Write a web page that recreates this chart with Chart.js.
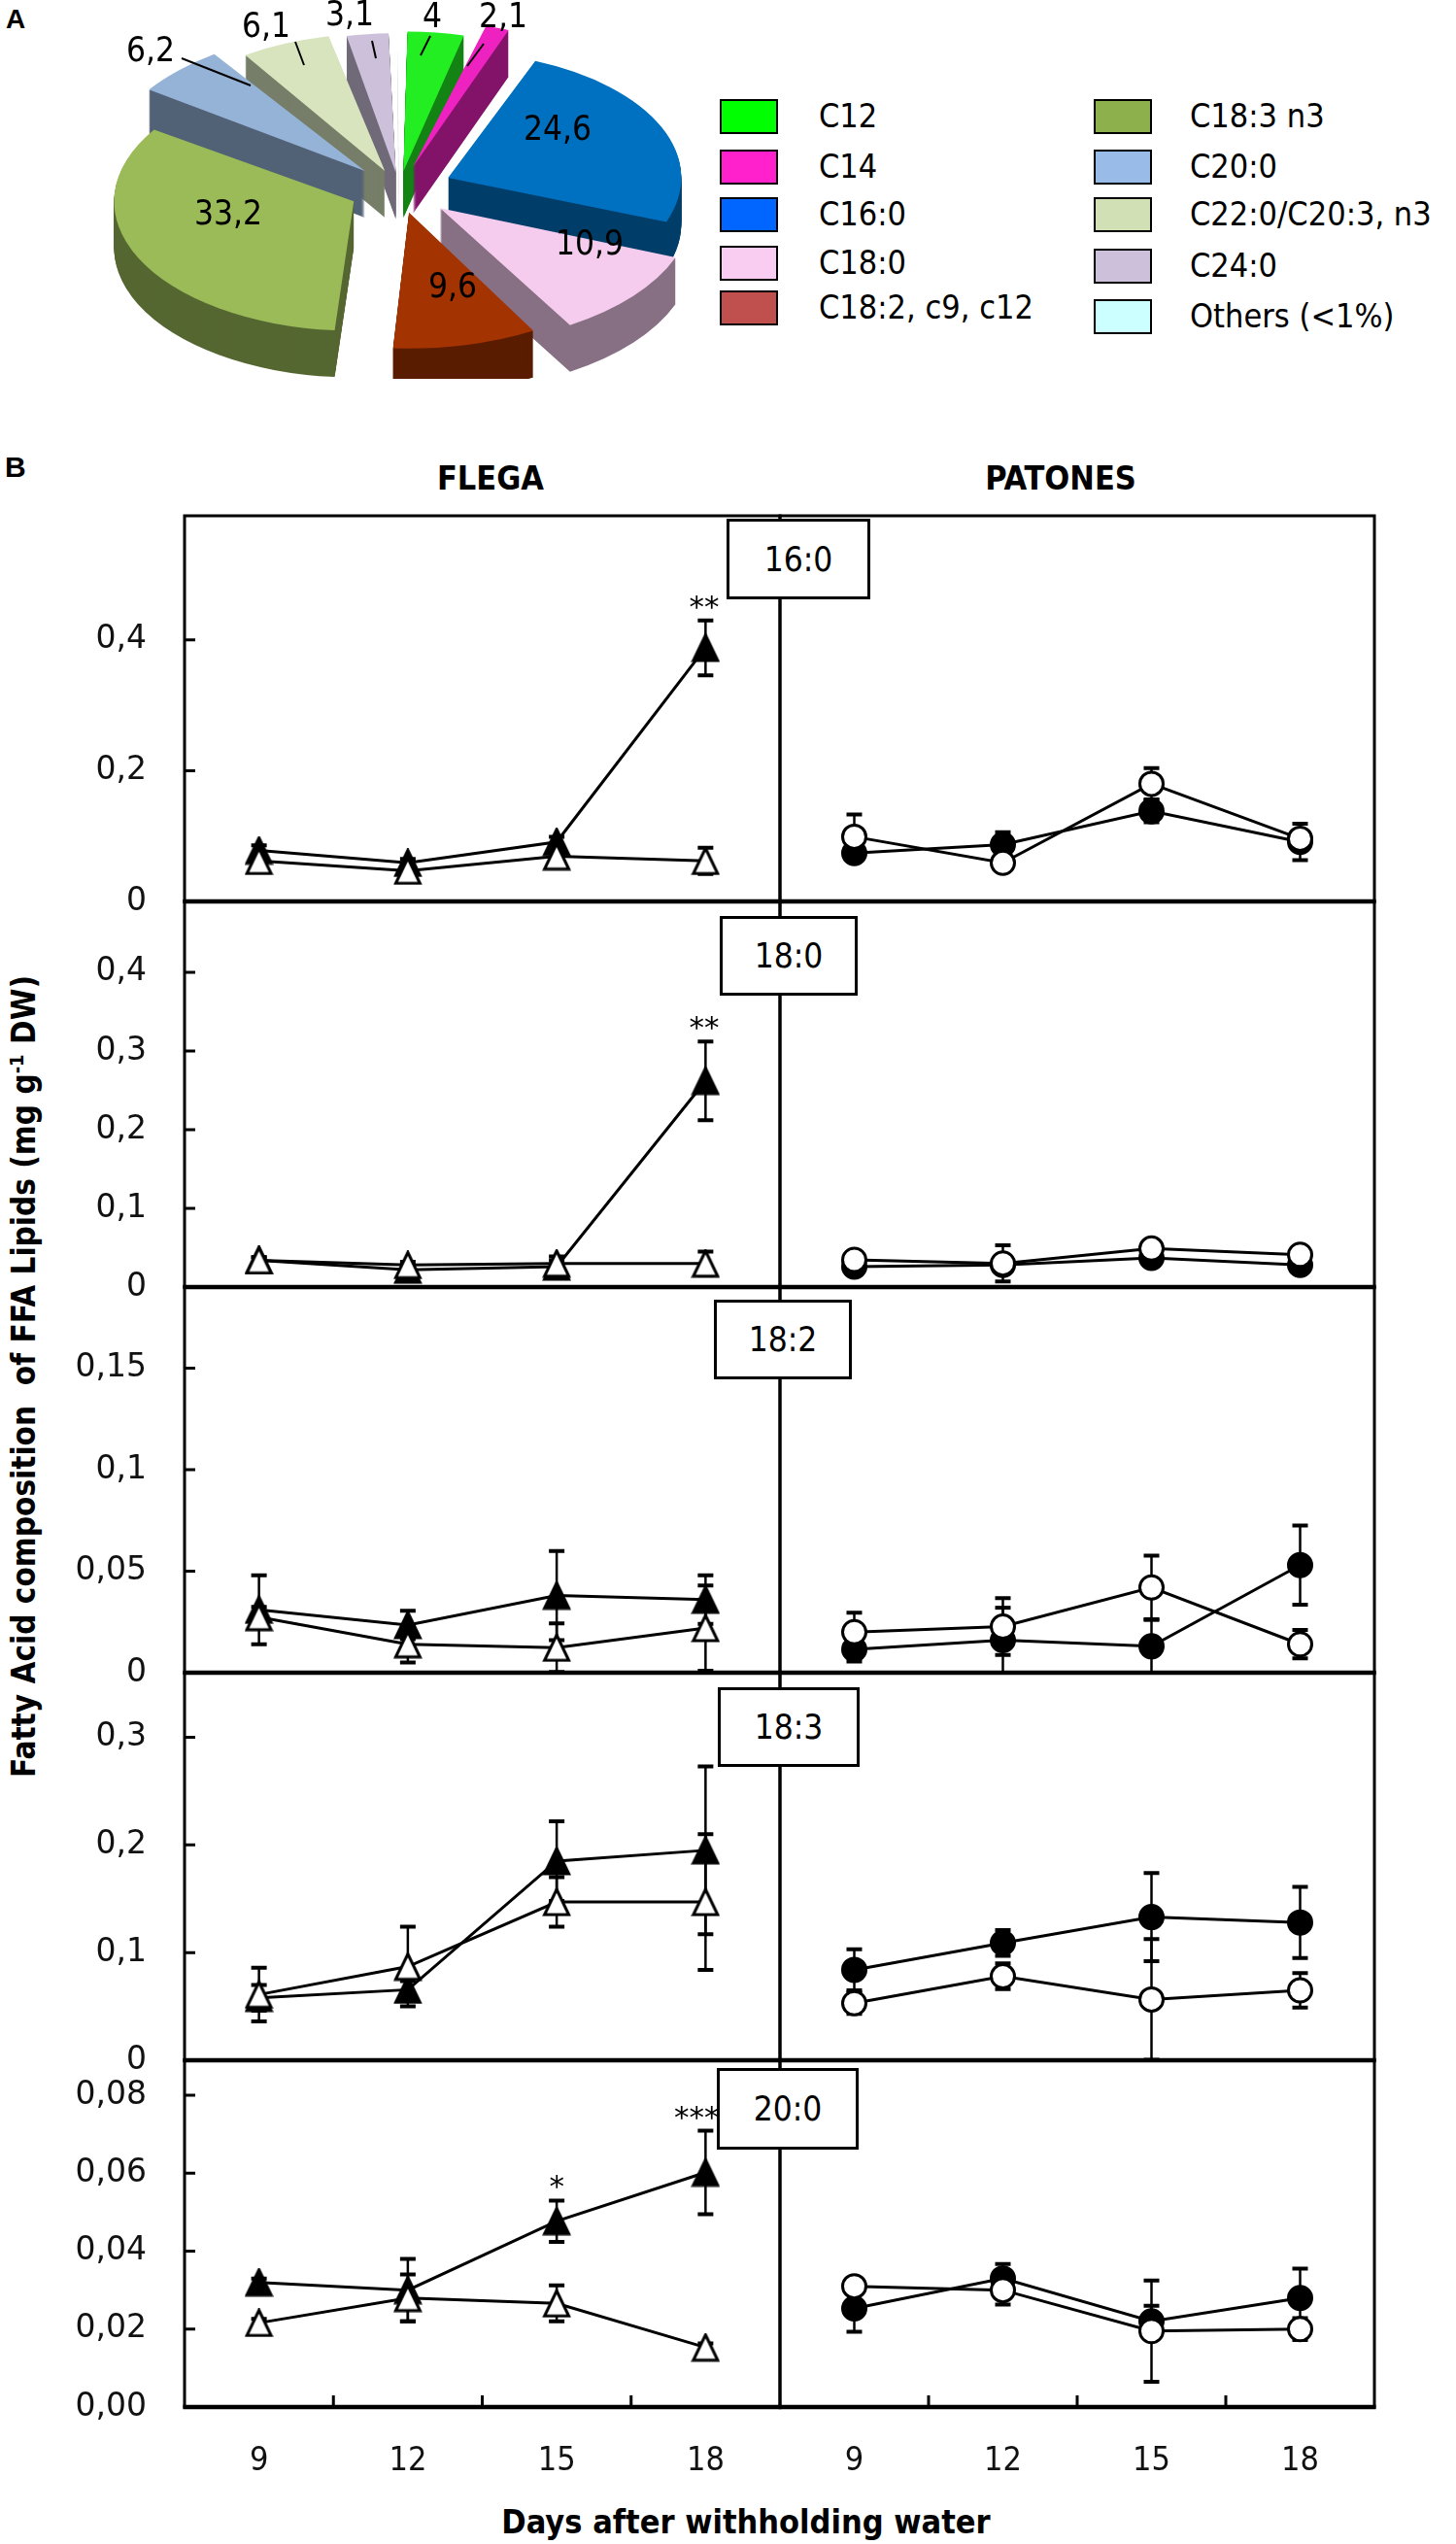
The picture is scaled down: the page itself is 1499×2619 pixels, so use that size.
<!DOCTYPE html>
<html>
<head>
<meta charset="utf-8">
<script src="https://cdn.jsdelivr.net/npm/chart.js@4.4.1/dist/chart.umd.min.js"></script>
<style>
  html, body { margin: 0; padding: 0; background: #fff; }
  body { width: 1499px; height: 2619px; position: relative; overflow: hidden; color: #000;
         font-family: 'DejaVu Sans Condensed', 'DejaVu Sans', sans-serif; }
  canvas { position: absolute; }
  .txt { position: absolute; white-space: pre; line-height: 1; }
  .bold { font-weight: bold; }
  .box { position: absolute; background: #fff; border: 3px solid #000; box-sizing: border-box;
         display: flex; align-items: center; justify-content: center; font-size: 35px; z-index: 5; }
  .sw { position: absolute; width: 60px; height: 36px; border: 2.5px solid #000; box-sizing: border-box; }
  .lg { position: absolute; font-size: 34px; line-height: 36px; white-space: nowrap; }
</style>
</head>
<body>
<div class="txt bold" style="left:6px;top:6px;font-family:'Liberation Sans';font-size:28px;">A</div>
<div class="txt bold" style="left:5px;top:466px;font-family:'Liberation Sans';font-size:30px;">B</div>
<div class="txt bold" style="left:505px;top:492px;font-size:34px;transform:translate(-50%,-50%);">FLEGA</div>
<div class="txt bold" style="left:1092px;top:492px;font-size:34px;transform:translate(-50%,-50%);">PATONES</div>
<div class="txt bold" style="left:24px;top:1417px;font-size:33px;transform:translate(-50%,-50%) rotate(-90deg);">Fatty Acid composition  of FFA Lipids (mg g<sup style="font-size:20px;">-1</sup> DW)</div>
<div class="txt bold" style="left:768px;top:2596px;font-size:34px;transform:translate(-50%,-50%);">Days after withholding water</div>

<script>
// ---- panel A: pie ----
var pieLabels = ['C12', 'C14', 'C16:0', 'C18:0', 'C18:2, c9, c12', 'C18:3 n3', 'C20:0', 'C22:0/C20:3, n3', 'C24:0', 'Others (<1%)'];
var pieValues = [4, 2.1, 24.6, 10.9, 9.6, 33.2, 6.2, 6.1, 3.1, 0.2];
var pieColors = ['#22ee22', '#ee22c0', '#0070c0', '#f6ccee', '#a33300', '#9bbb59', '#95b3d7', '#d7e4bd', '#ccc0da', '#ccffff'];
var legendColors = ['#00ff00', '#ff22cc', '#0066ff', '#f9ccf2', '#c0504d', '#8db04c', '#99bbe8', '#d2e0b5', '#ccc0da', '#ccffff'];
var pieExplode = [35, 45, 55, 55, 45, 52, 50, 38, 32, 30];

// ---- panel B: days and y ticks ----
var days = ['9', '12', '15', '18'];
var panelNames = ['16:0', '18:0', '18:2', '18:3', '20:0'];
var yMax = [0.59, 0.49, 0.19, 0.36, 0.089];
var yTicks16 = [0, 0.2, 0.4];
var yTicks18 = [0, 0.1, 0.2, 0.3, 0.4];
var yTicks182 = [0, 0.05, 0.1, 0.15];
var yTicks183 = [0, 0.1, 0.2, 0.3];
var yTicks20 = [0, 0.02, 0.04, 0.06, 0.08];
var yLabels16 = ['0', '0,2', '0,4'];
var yLabels18 = ['0', '0,1', '0,2', '0,3', '0,4'];
var yLabels182 = ['0', '0,05', '0,1', '0,15'];
var yLabels183 = ['0', '0,1', '0,2', '0,3'];
var yLabels20 = ['0,00', '0,02', '0,04', '0,06', '0,08'];

// FLEGA, solid triangles / open triangles (mean and error)
var flegaSolid16 = [0.078, 0.059, 0.091, 0.388];
var flegaSolidErr16 = [0.008, 0.006, 0.008, 0.042];
var flegaOpen16 = [0.062, 0.047, 0.069, 0.062];
var flegaOpenErr16 = [0.006, 0.005, 0.006, 0.02];
var flegaSolid18 = [0.034, 0.022, 0.026, 0.262];
var flegaSolidErr18 = [0.004, 0.005, 0.013, 0.05];
var flegaOpen18 = [0.034, 0.028, 0.03, 0.03];
var flegaOpenErr18 = [0.004, 0.004, 0.004, 0.015];
var flegaSolid182 = [0.031, 0.0235, 0.038, 0.036];
var flegaSolidErr182 = [0.017, 0.007, 0.022, 0.012];
var flegaOpen182 = [0.0274, 0.014, 0.0123, 0.022];
var flegaOpenErr182 = [0.005, 0.009, 0.012, 0.021];
var flegaSolid183 = [0.058, 0.0655, 0.185, 0.195];
var flegaSolidErr183 = [0.012, 0.008, 0.037, 0.078];
var flegaOpen183 = [0.061, 0.087, 0.147, 0.147];
var flegaOpenErr183 = [0.025, 0.037, 0.023, 0.063];
var flegaSolid20 = [0.032, 0.03, 0.0477, 0.0602];
var flegaSolidErr20 = [0.001, 0.008, 0.0053, 0.0107];
var flegaOpen20 = [0.0216, 0.028, 0.0266, 0.0153];
var flegaOpenErr20 = [0.001, 0.006, 0.0046, 0.001];
var flegaSig16 = ['', '', '', '**'];
var flegaSig18 = ['', '', '', '**'];
var flegaSig20 = ['', '', '*', '***'];

// PATONES, solid circles / open circles
var patonesSolid16 = [0.074, 0.087, 0.138, 0.091];
var patonesSolidErr16 = [0.01, 0.019, 0.017, 0.028];
var patonesOpen16 = [0.099, 0.059, 0.18, 0.096];
var patonesOpenErr16 = [0.034, 0.006, 0.024, 0.01];
var patonesSolid18 = [0.026, 0.028, 0.037, 0.028];
var patonesSolidErr18 = [0.004, 0.01, 0.004, 0.004];
var patonesOpen18 = [0.0345, 0.03, 0.049, 0.041];
var patonesOpenErr18 = [0.004, 0.023, 0.005, 0.004];
var patonesSolid182 = [0.0115, 0.016, 0.013, 0.053];
var patonesSolidErr182 = [0.006, 0.016, 0.013, 0.0195];
var patonesOpen182 = [0.02, 0.0227, 0.042, 0.014];
var patonesOpenErr182 = [0.0096, 0.014, 0.0157, 0.007];
var patonesSolid183 = [0.084, 0.109, 0.133, 0.128];
var patonesSolidErr183 = [0.019, 0.012, 0.041, 0.033];
var patonesOpen183 = [0.053, 0.078, 0.0565, 0.065];
var patonesOpenErr183 = [0.01, 0.012, 0.056, 0.016];
var patonesSolid20 = [0.0253, 0.033, 0.022, 0.028];
var patonesSolidErr20 = [0.006, 0.0037, 0.004, 0.0075];
var patonesOpen20 = [0.031, 0.03, 0.0195, 0.02];
var patonesOpenErr20 = [0.001, 0.0037, 0.013, 0.0028];

var condensed = 'DejaVu Sans Condensed';

// ---------- pie ----------
var pieLeft = 91, pieTop = 0, tilt = 0.54, depth = 48;
var pieLabelAt = [[445, 19], [518, 19], [574, 135], [607, 253], [466, 297], [235, 222], [155, 54], [274, 29], [360, 17], null];
var pieLeaders = [[443, 37, 433, 57], [498, 45, 481, 68], [187, 60, 258, 88], [304, 43, 313, 67], [383, 42, 387, 60]];

function makeCanvas(left, top, w, h) {
  var c = document.createElement('canvas');
  c.width = w;
  c.height = h;
  c.style.left = left + 'px';
  c.style.top = top + 'px';
  c.style.width = w + 'px';
  c.style.height = h + 'px';
  document.body.appendChild(c);
  return c;
}

var pie3d = {
  id: 'pie3d',
  beforeDatasetsDraw: function(chart) {
    var ctx = chart.ctx;
    var arcs = chart.getDatasetMeta(0).data;
    var cy = arcs[0].y;
    ctx.save();
    ctx.translate(0, cy);
    ctx.scale(1, tilt);
    ctx.translate(0, -cy);
    // side walls: the same arcs stacked downwards, darkened afterwards
    for (var d = depth; d > 0; d--) {
      ctx.save();
      ctx.translate(0, d / tilt);
      arcs.forEach(function(a) { a.draw(ctx); });
      ctx.restore();
    }
    ctx.save();
    ctx.setTransform(1, 0, 0, 1, 0, 0);
    ctx.globalCompositeOperation = 'source-atop';
    ctx.fillStyle = 'rgba(0,0,0,0.45)';
    ctx.fillRect(0, 0, chart.canvas.width, chart.canvas.height);
    ctx.restore();
  },
  afterDatasetsDraw: function(chart) {
    chart.ctx.restore();
  },
  afterDraw: function(chart) {
    var ctx = chart.ctx;
    ctx.save();
    ctx.fillStyle = '#000';
    ctx.font = '35px "' + condensed + '"';
    ctx.textAlign = 'center';
    ctx.textBaseline = 'middle';
    pieValues.forEach(function(v, i) {
      var p = pieLabelAt[i];
      if (!p) return;
      ctx.fillText(String(v).replace('.', ','), p[0] - pieLeft, p[1] - pieTop);
    });
    ctx.strokeStyle = '#000';
    ctx.lineWidth = 2;
    pieLeaders.forEach(function(l) {
      ctx.beginPath();
      ctx.moveTo(l[0] - pieLeft, l[1] - pieTop);
      ctx.lineTo(l[2] - pieLeft, l[3] - pieTop);
      ctx.stroke();
    });
    ctx.restore();
  }
};

new Chart(makeCanvas(pieLeft, pieTop, 640, 390), {
  type: 'pie',
  data: {
    labels: pieLabels,
    datasets: [{
      data: pieValues,
      backgroundColor: pieColors,
      borderWidth: 0,
      offset: pieExplode.map(function(o) { return o * 4; }),
      clip: false
    }]
  },
  options: {
    responsive: false,
    animation: false,
    events: [],
    radius: 240,
    plugins: { legend: { display: false }, tooltip: { enabled: false } }
  },
  plugins: [pie3d]
});

// legend
var legendPos = [[741, 102], [741, 154], [741, 203], [741, 253], [741, 299],
                 [1126, 102], [1126, 154], [1126, 203], [1126, 256], [1126, 308]];
pieLabels.forEach(function(name, i) {
  var sw = document.createElement('div');
  sw.className = 'sw';
  sw.style.left = legendPos[i][0] + 'px';
  sw.style.top = legendPos[i][1] + 'px';
  sw.style.background = legendColors[i];
  document.body.appendChild(sw);
  var t = document.createElement('div');
  t.className = 'lg';
  t.textContent = name;
  t.style.left = (legendPos[i][0] + (i < 5 ? 102 : 99)) + 'px';
  t.style.top = (legendPos[i][1] - 1) + 'px';
  document.body.appendChild(t);
});

// ---------- line panels ----------
function triangle(filled) {
  var c = document.createElement('canvas');
  c.width = 30;
  c.height = 30;
  var g = c.getContext('2d');
  g.beginPath();
  g.moveTo(15, 2);
  g.lineTo(27.5, 28);
  g.lineTo(2.5, 28);
  g.closePath();
  g.fillStyle = filled ? '#000' : '#fff';
  g.fill();
  g.lineWidth = 3;
  g.strokeStyle = '#000';
  g.stroke();
  return c;
}
var triSolid = triangle(true);
var triOpen = triangle(false);

var errorBars = {
  id: 'errorBars',
  beforeDatasetsDraw: function(chart) {
    var ctx = chart.ctx, ys = chart.scales.y;
    ctx.save();
    ctx.strokeStyle = '#000';
    chart.data.datasets.forEach(function(ds, di) {
      var meta = chart.getDatasetMeta(di);
      ds.errors.forEach(function(e, i) {
        var x = meta.data[i].x, v = ds.data[i];
        var top = ys.getPixelForValue(v + e);
        var bot = ys.getPixelForValue(Math.max(0, v - e));
        ctx.lineWidth = 2.5;
        ctx.beginPath();
        ctx.moveTo(x, top);
        ctx.lineTo(x, bot);
        ctx.stroke();
        ctx.lineWidth = 4;
        ctx.beginPath();
        ctx.moveTo(x - 8, top);
        ctx.lineTo(x + 8, top);
        if (v - e > 0) {
          ctx.moveTo(x - 8, bot);
          ctx.lineTo(x + 8, bot);
        }
        ctx.stroke();
      });
    });
    ctx.restore();
  },
  afterDatasetsDraw: function(chart) {
    var ctx = chart.ctx, ys = chart.scales.y;
    ctx.save();
    ctx.fillStyle = '#000';
    ctx.font = '31px "DejaVu Sans"';
    ctx.textAlign = 'center';
    ctx.textBaseline = 'alphabetic';
    chart.data.datasets.forEach(function(ds, di) {
      if (!ds.sig) return;
      var meta = chart.getDatasetMeta(di);
      ds.sig.forEach(function(s, i) {
        if (!s) return;
        var x = meta.data[i].x;
        var w = ctx.measureText(s).width;
        if (x + w / 2 > x + 14 && i === ds.sig.length - 1) x = x + 14 - w / 2;
        ctx.fillText(s, x, ys.getPixelForValue(ds.data[i] + ds.errors[i]) - 4);
      });
    });
    ctx.restore();
  }
};

var frame = {
  id: 'frame',
  afterDraw: function(chart, args, opts) {
    var a = chart.chartArea, ctx = chart.ctx;
    ctx.save();
    ctx.strokeStyle = '#000';
    ctx.lineWidth = 3;
    ctx.strokeRect(a.left, a.top, a.right - a.left, a.bottom - a.top);
    ctx.lineWidth = 4.5;
    ctx.beginPath();
    ctx.moveTo(a.left - 1.5, a.bottom);
    ctx.lineTo(a.right + 1.5, a.bottom);
    ctx.stroke();
    ctx.lineWidth = 3;
    ctx.beginPath();
    if (opts.yTicks) {
      var ys = chart.scales.y;
      ys.ticks.forEach(function(t) {
        var py = ys.getPixelForValue(t.value);
        ctx.moveTo(a.left, py);
        ctx.lineTo(a.left + 11, py);
      });
    }
    if (opts.xTicks) {
      var xs = chart.scales.x;
      for (var i = 0; i < days.length - 1; i++) {
        var px = (xs.getPixelForValue(i) + xs.getPixelForValue(i + 1)) / 2;
        ctx.moveTo(px, a.bottom);
        ctx.lineTo(px, a.bottom - 12);
      }
    }
    ctx.stroke();
    ctx.restore();
  }
};

function series(data, errors, marker, sig) {
  return {
    data: data,
    errors: errors,
    sig: sig || null,
    borderColor: '#000',
    borderWidth: 3,
    pointStyle: marker,
    pointRadius: 12,
    pointBackgroundColor: '#fff',
    pointBorderColor: '#000',
    pointBorderWidth: 3,
    fill: false,
    tension: 0,
    clip: false
  };
}
function circle(data, errors, filled) {
  var s = series(data, errors, 'circle');
  s.pointBackgroundColor = filled ? '#000' : '#fff';
  return s;
}

var rowTop = [531, 928, 1325, 1722, 2121];
var rowBottom = [928, 1325, 1722, 2121, 2478];
var rowTicks = [yTicks16, yTicks18, yTicks182, yTicks183, yTicks20];
var rowTickLabels = [yLabels16, yLabels18, yLabels182, yLabels183, yLabels20];
var flegaRows = [
  [series(flegaOpen16, flegaOpenErr16, triOpen), series(flegaSolid16, flegaSolidErr16, triSolid, flegaSig16)],
  [series(flegaOpen18, flegaOpenErr18, triOpen), series(flegaSolid18, flegaSolidErr18, triSolid, flegaSig18)],
  [series(flegaOpen182, flegaOpenErr182, triOpen), series(flegaSolid182, flegaSolidErr182, triSolid)],
  [series(flegaOpen183, flegaOpenErr183, triOpen), series(flegaSolid183, flegaSolidErr183, triSolid)],
  [series(flegaOpen20, flegaOpenErr20, triOpen), series(flegaSolid20, flegaSolidErr20, triSolid, flegaSig20)]
];
var patonesRows = [
  [circle(patonesOpen16, patonesOpenErr16, false), circle(patonesSolid16, patonesSolidErr16, true)],
  [circle(patonesOpen18, patonesOpenErr18, false), circle(patonesSolid18, patonesSolidErr18, true)],
  [circle(patonesOpen182, patonesOpenErr182, false), circle(patonesSolid182, patonesSolidErr182, true)],
  [circle(patonesOpen183, patonesOpenErr183, false), circle(patonesSolid183, patonesSolidErr183, true)],
  [circle(patonesOpen20, patonesOpenErr20, false), circle(patonesSolid20, patonesSolidErr20, true)]
];

function panel(r, left) {
  var last = r === rowTop.length - 1;
  var h = rowBottom[r] - rowTop[r];
  var c = left ? makeCanvas(0, rowTop[r] - 20, 820, h + 20 + (last ? 70 : 20))
               : makeCanvas(786, rowTop[r] - 20, 646, h + 20 + (last ? 70 : 20));
  var ticks = rowTicks[r], tickLabels = rowTickLabels[r];
  new Chart(c, {
    type: 'line',
    data: { labels: days, datasets: left ? flegaRows[r] : patonesRows[r] },
    options: {
      responsive: false,
      animation: false,
      events: [],
      layout: { padding: { top: 20, bottom: last ? 0 : 20, left: left ? 0 : 17, right: 17 } },
      plugins: {
        legend: { display: false },
        tooltip: { enabled: false },
        frame: { yTicks: left, xTicks: last }
      },
      scales: {
        x: {
          type: 'category',
          offset: true,
          display: last,
          grid: { display: false, drawTicks: false },
          border: { display: false },
          ticks: { padding: 36, color: '#111', font: { family: condensed, size: 34 }, maxRotation: 0 },
          afterFit: function(s) {
            s.paddingLeft = 0; s.paddingRight = 0; s.paddingTop = 0; s.paddingBottom = 0;
            if (last) s.height = 70;
          }
        },
        y: {
          min: 0,
          max: yMax[r],
          display: left,
          grid: { display: false, drawTicks: false },
          border: { display: false },
          afterBuildTicks: function(s) { s.ticks = ticks.map(function(v) { return { value: v }; }); },
          afterFit: function(s) {
            s.paddingLeft = 0; s.paddingRight = 0; s.paddingTop = 0; s.paddingBottom = 0;
            if (left) s.width = 190;
          },
          ticks: {
            padding: 39,
            color: '#111',
            font: { family: 'DejaVu Sans', size: 33 },
            callback: function(v, i) { return tickLabels[i]; }
          }
        }
      }
    },
    plugins: [errorBars, frame]
  });
}

for (var r = 0; r < rowTop.length; r++) {
  panel(r, true);
  panel(r, false);
}

// panel name boxes
var boxPos = [[748, 534, 148, 83], [741, 943, 142, 82], [735, 1338, 142, 82], [739, 1737, 146, 82], [738, 2129, 146, 84]];
panelNames.forEach(function(name, i) {
  var b = document.createElement('div');
  b.className = 'box';
  b.textContent = name;
  b.style.left = boxPos[i][0] + 'px';
  b.style.top = boxPos[i][1] + 'px';
  b.style.width = boxPos[i][2] + 'px';
  b.style.height = boxPos[i][3] + 'px';
  document.body.appendChild(b);
});
</script>
</body>
</html>
